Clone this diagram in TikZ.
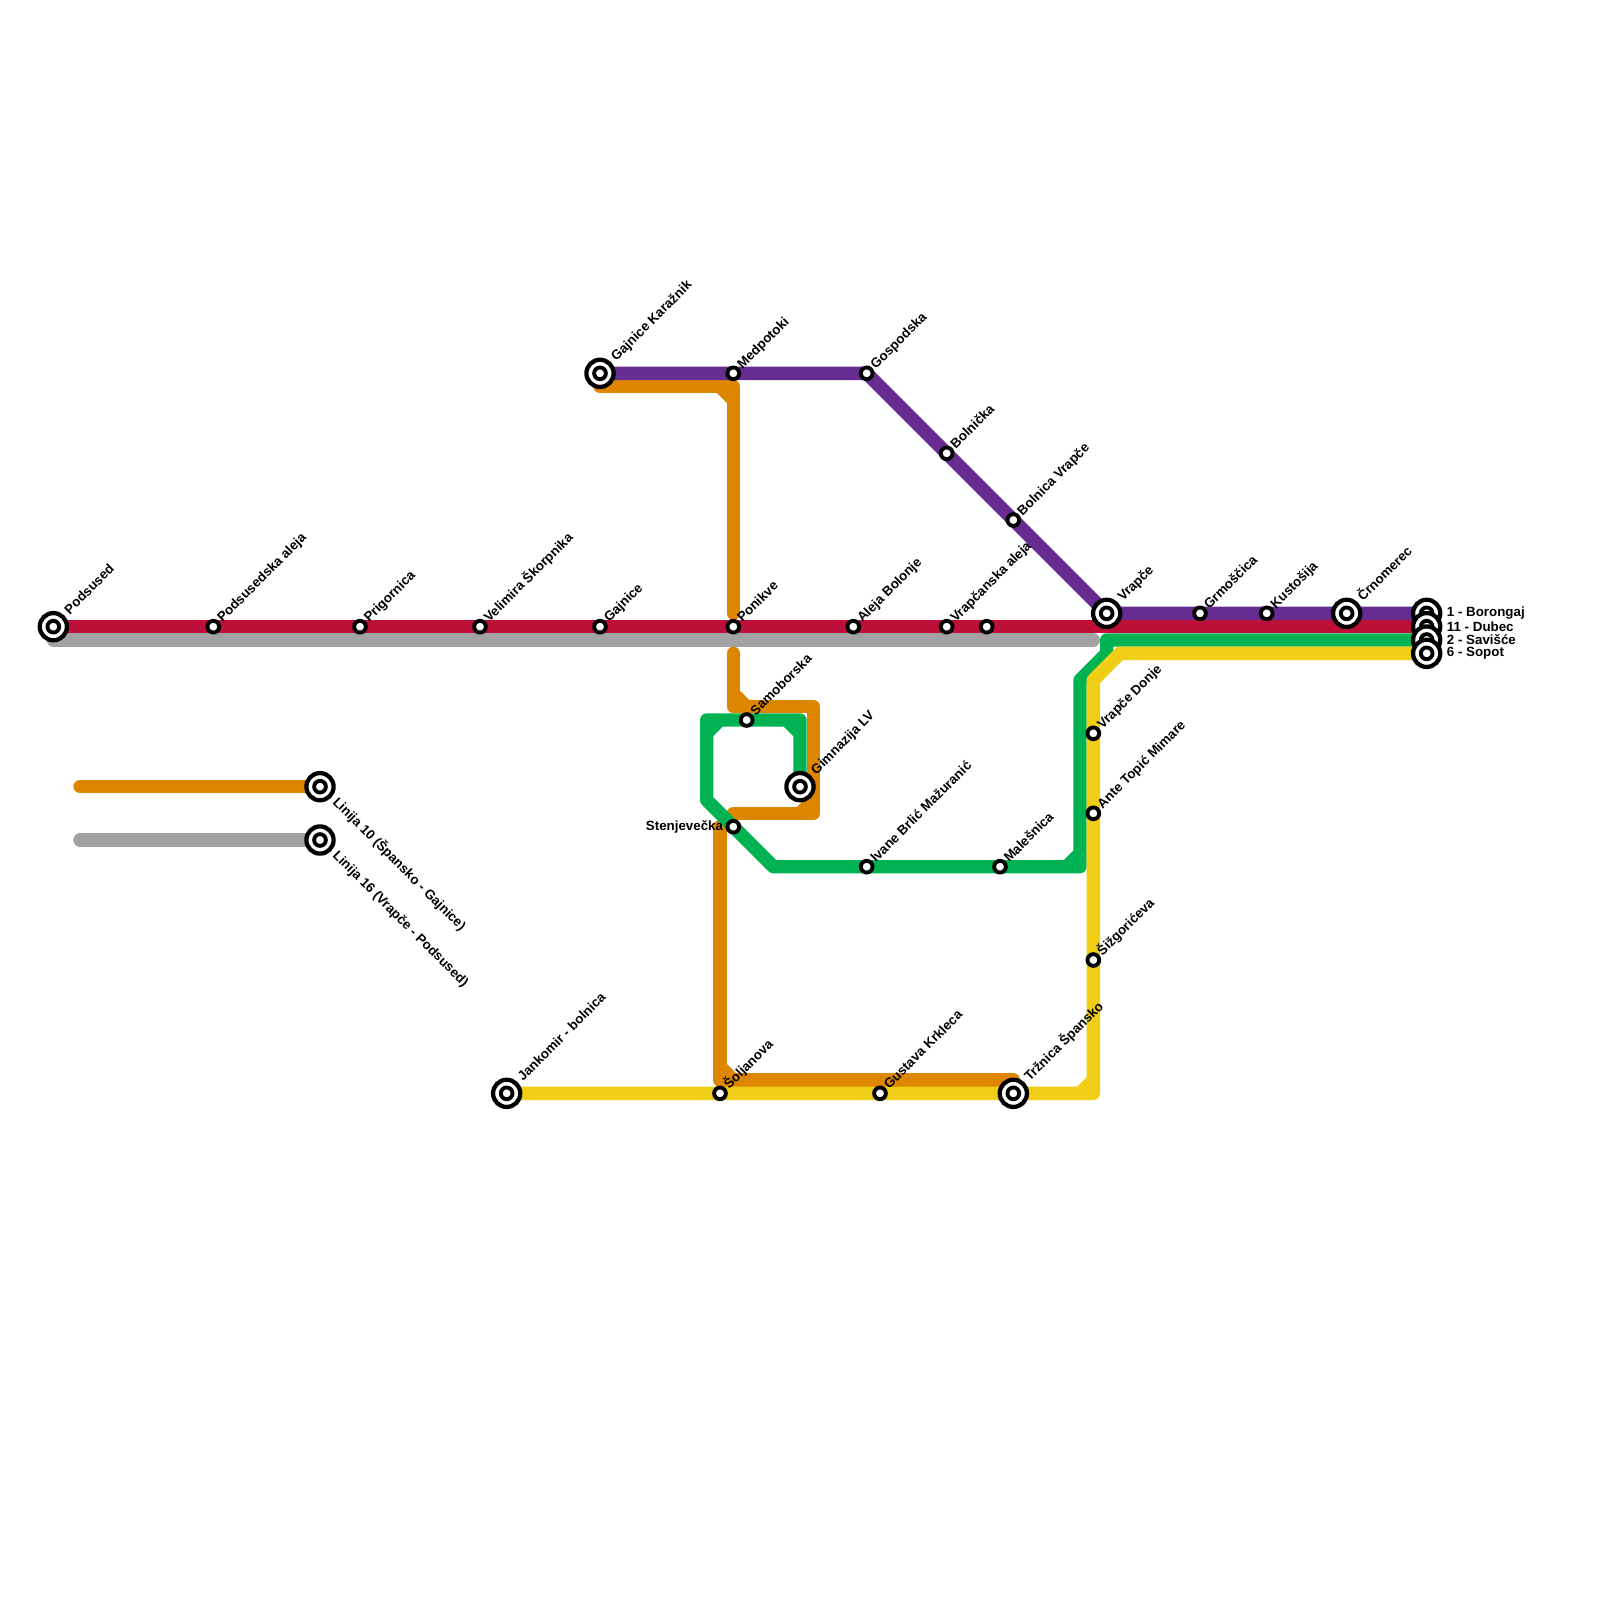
\documentclass[tikz,border=0pt]{standalone}
\usepackage{fontspec}
\setmainfont{Liberation Sans}
\pgfdeclarelayer{lines}
\pgfsetlayers{lines,main}
\definecolor{lred}{HTML}{BD1038}
\definecolor{lpurple}{HTML}{662C90}
\definecolor{lorange}{HTML}{DF8600}
\definecolor{lgray}{HTML}{A2A2A2}
\definecolor{lgreen}{HTML}{00B251}
\definecolor{lyellow}{HTML}{F0CE15}
\tikzset{
  stop/.style={circle,draw=black,fill=white,line width=2.9pt,inner sep=0pt,outer sep=0pt,minimum size=8.8pt},
  hub/.style={circle,draw=black,fill=white,line width=3.2pt,inner sep=0pt,outer sep=0pt,minimum size=20.4pt,
    path picture={\draw[line width=2.9pt,black] (path picture bounding box.center) circle (4.4pt);}},
  txt/.style={font=\bfseries\fontsize{10pt}{10pt}\selectfont,inner sep=0pt},
  lup/.style={txt,xshift=6.8pt,yshift=2.7pt,rotate=45,anchor=base west},
  hup/.style={txt,xshift=12.2pt,yshift=8.6pt,rotate=45,anchor=base west},
  ldown/.style={txt,xshift=9pt,yshift=-12.1pt,rotate=-45,anchor=base west},
  lleft/.style={txt,anchor=east,xshift=-7.5pt},
  lright/.style={txt,anchor=west},
  metro/.style={line width=10pt,line join=round,line cap=round},
  chamfer/.style={line width=10pt,line cap=butt},
}
\begin{document}
\begin{tikzpicture}[x=10pt,y=-10pt]
\useasboundingbox (0,0) rectangle (120,120);
% junction points
\coordinate (gy2) at (82,48);
\coordinate (o1) at (45,29);
\coordinate (o2) at (55,29);
\coordinate (o3) at (55,46);
\coordinate (o4) at (55,49);
\coordinate (o5) at (55,53);
\coordinate (o6) at (61,53);
\coordinate (o7) at (61,61);
\coordinate (o8) at (55,61);
\coordinate (o9) at (54,62);
\coordinate (o10) at (54,81);
\coordinate (o11) at (76,81);
\coordinate (c1a) at (54,29);
\coordinate (c1b) at (55,30);
\coordinate (c2a) at (55,52);
\coordinate (c2b) at (56,53);
\coordinate (c3a) at (60,61);
\coordinate (c3b) at (61,60);
\coordinate (c4a) at (54,80);
\coordinate (c4b) at (55,81);
\coordinate (g1) at (83,48);
\coordinate (g2) at (83,49);
\coordinate (g3) at (81,51);
\coordinate (g4) at (81,65);
\coordinate (g5) at (58,65);
\coordinate (g6) at (53,60);
\coordinate (g7) at (53,54);
\coordinate (g8) at (60,54);
\coordinate (c5a) at (53,55);
\coordinate (c5b) at (54,54);
\coordinate (c6a) at (59,54);
\coordinate (c6b) at (60,55);
\coordinate (c7a) at (81,64);
\coordinate (c7b) at (80,65);
\coordinate (y1) at (84,49);
\coordinate (y2) at (82,51);
\coordinate (y3) at (82,82);
\coordinate (c8a) at (81,82);
\coordinate (c8b) at (82,81);
\coordinate (leg1) at (6,59);
\coordinate (leg2) at (6,63);

% stations
\node[hub] (podsused) at (4,47) {};
\node[hup] (tpodsused) at (podsused) {Podsused};
\node[stop] (podsaleja) at (16,47) {};
\node[lup] (tpodsaleja) at (podsaleja) {Podsusedska aleja};
\node[stop] (prigornica) at (27,47) {};
\node[lup] (tprigornica) at (prigornica) {Prigornica};
\node[stop] (skorpnika) at (36,47) {};
\node[lup] (tskorpnika) at (skorpnika) {Velimira Škorpnika};
\node[stop] (gajnice) at (45,47) {};
\node[lup] (tgajnice) at (gajnice) {Gajnice};
\node[stop] (ponikve) at (55,47) {};
\node[lup] (tponikve) at (ponikve) {Ponikve};
\node[stop] (bolonje) at (64,47) {};
\node[lup] (tbolonje) at (bolonje) {Aleja Bolonje};
\node[stop] (vraleja) at (71,47) {};
\node[lup] (tvraleja) at (vraleja) {Vrapčanska aleja};
\node[stop] (unnamed) at (74,47) {};
\node[hub] (vrapce) at (83,46) {};
\node[hup] (tvrapce) at (vrapce) {Vrapče};
\node[stop] (grmoscica) at (90,46) {};
\node[lup] (tgrmoscica) at (grmoscica) {Grmoščica};
\node[stop] (kustosija) at (95,46) {};
\node[lup] (tkustosija) at (kustosija) {Kustošija};
\node[hub] (crnomerec) at (101,46) {};
\node[hup] (tcrnomerec) at (crnomerec) {Črnomerec};
\node[hub] (karaznik) at (45,28) {};
\node[hup] (tkaraznik) at (karaznik) {Gajnice Karažnik};
\node[stop] (medpotoki) at (55,28) {};
\node[lup] (tmedpotoki) at (medpotoki) {Medpotoki};
\node[stop] (gospodska) at (65,28) {};
\node[lup] (tgospodska) at (gospodska) {Gospodska};
\node[stop] (bolnicka) at (71,34) {};
\node[lup] (tbolnicka) at (bolnicka) {Bolnička};
\node[stop] (bolnica) at (76,39) {};
\node[lup] (tbolnica) at (bolnica) {Bolnica Vrapče};
\node[stop] (samoborska) at (56,54) {};
\node[lup] (tsamoborska) at (samoborska) {Samoborska};
\node[hub] (gimnazija) at (60,59) {};
\node[hup] (tgimnazija) at (gimnazija) {Gimnazija LV};
\node[stop] (stenjevecka) at (55,62) {};
\node[lleft] (tstenjevecka) at (stenjevecka) {Stenjevečka};
\node[stop] (mazuranic) at (65,65) {};
\node[lup] (tmazuranic) at (mazuranic) {Ivane Brlić Mažuranić};
\node[stop] (malesnica) at (75,65) {};
\node[lup] (tmalesnica) at (malesnica) {Malešnica};
\node[stop] (vdonje) at (82,55) {};
\node[lup] (tvdonje) at (vdonje) {Vrapče Donje};
\node[stop] (mimare) at (82,61) {};
\node[lup] (tmimare) at (mimare) {Ante Topić Mimare};
\node[stop] (sizgoriceva) at (82,72) {};
\node[lup] (tsizgoriceva) at (sizgoriceva) {Šižgorićeva};
\node[hub] (jankomir) at (38,82) {};
\node[hup] (tjankomir) at (jankomir) {Jankomir - bolnica};
\node[stop] (soljanova) at (54,82) {};
\node[lup] (tsoljanova) at (soljanova) {Šoljanova};
\node[stop] (krkleca) at (66,82) {};
\node[lup] (tkrkleca) at (krkleca) {Gustava Krkleca};
\node[hub] (trznica) at (76,82) {};
\node[hup] (ttrznica) at (trznica) {Tržnica Špansko};
\node[hub] (linten) at (24,59) {};
\node[ldown] (tlinten) at (linten) {Linija 10 (Špansko - Gajnice)};
\node[hub] (linsix) at (24,63) {};
\node[ldown] (tlinsix) at (linsix) {Linija 16 (Vrapče - Podsused)};
% terminals, top one first so that each lies over the one before
\node[hub] (borongaj) at (107,46) {};
\node[hub] (dubec) at (107,47) {};
\node[hub] (savisce) at (107,48) {};
\node[hub] (sopot) at (107,49) {};
\node[lright] (tborongaj) at (108.5,46) {1 - Borongaj};
\node[lright] (tdubec) at (108.5,47) {11 - Dubec};
\node[lright] (tsavisce) at (108.5,48) {2 - Savišće};
\node[lright] (tsopot) at (108.5,49) {6 - Sopot};

\begin{pgfonlayer}{lines}
% orange
\draw[metro,lorange] (o1) -- (o2) -- (o3);
\draw[metro,lorange] (o4) -- (o5) -- (o6) -- (o7) -- (o8);
\draw[metro,lorange] (o9) -- (o10) -- (o11);
\draw[metro,lorange] (leg1) -- (linten.center);
\draw[chamfer,lorange] (c1a) -- (c1b);
\draw[chamfer,lorange] (c2a) -- (c2b);
\draw[chamfer,lorange] (c3a) -- (c3b);
\draw[chamfer,lorange] (c4a) -- (c4b);
% green
\draw[metro,lgreen] (savisce.center) -- (g1) -- (g2) -- (g3) -- (g4) -- (g5) -- (g6) -- (g7) -- (g8) -- (gimnazija.center);
\draw[chamfer,lgreen] (c5a) -- (c5b);
\draw[chamfer,lgreen] (c6a) -- (c6b);
\draw[chamfer,lgreen] (c7a) -- (c7b);
% yellow
\draw[metro,lyellow] (sopot.center) -- (y1) -- (y2) -- (y3) -- (jankomir.center);
\draw[chamfer,lyellow] (c8a) -- (c8b);
% purple
\draw[metro,lpurple] (karaznik.center) -- (gospodska.center) -- (vrapce.center) -- (borongaj.center);
% gray
\draw[metro,lgray] (podsused.center |- gy2) -- (gy2);
\draw[metro,lgray] (leg2) -- (linsix.center);
% red
\draw[metro,lred] (podsused.center) -- (dubec.center);
\end{pgfonlayer}
\end{tikzpicture}
\end{document}
